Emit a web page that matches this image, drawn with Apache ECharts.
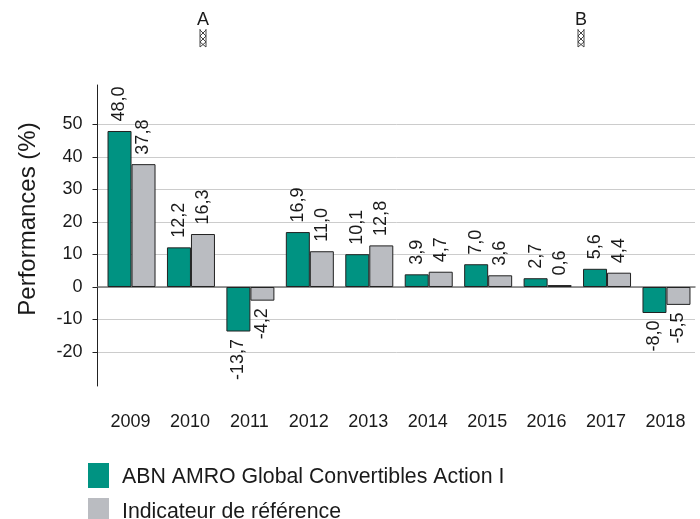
<!DOCTYPE html>
<html><head><meta charset="utf-8">
<style>html,body{margin:0;padding:0;background:#fff}#c{width:700px;height:519px}</style>
<script src="https://cdn.jsdelivr.net/npm/echarts@6/dist/echarts.min.js"></script>
</head><body><div id="c"></div>
<script>
const years = [2009,2010,2011,2012,2013,2014,2015,2016,2017,2018];
const fundValues = [48.0,12.2,-13.7,16.9,10.1,3.9,7.0,2.7,5.6,-8.0];
const benchValues = [37.8,16.3,-4.2,11.0,12.8,4.7,3.6,0.6,4.4,-5.5];
const yTicks = [-20,-10,0,10,20,30,40,50];
const fundName = 'ABN AMRO Global Convertibles Action I';
const benchName = 'Indicateur de référence';
const yName = 'Performances (%)';
const periodMarks = ['A','B'];

const FONT = '"Liberation Sans", Arial, sans-serif';
const TXT = '#1a1a1a';
const fmt = v => v.toFixed(1).replace('.', ',');
const pts = vals => vals.map((v,i)=>({
  value:[years[i],v],
  label:{position: v<0 ? 'bottom':'top', align: v<0 ? 'right':'left', verticalAlign:'middle'}
}));
const barSeries = (name, vals, color) => ({
  name, type:'bar', data:pts(vals), barWidth:24, barGap:0, xAxisIndex:0,
  itemStyle:{color, borderColor:'#222', borderWidth:1},
  label:{show:true, rotate:90, distance:8.5, offset:[1,0], fontFamily:FONT, fontSize:18, color:TXT,
    formatter:p=>fmt(p.value[1])}
});
const pl = (points) => ({type:'polyline', shape:{points}, style:{fill:null, stroke:'#444', lineWidth:1}});
const mark = (cx, t) => ({type:'group', children:[
  {type:'text', x:cx, y:20, style:{text:t, font:'18px '+FONT, fill:TXT, textAlign:'center', textVerticalAlign:'middle'}},
  pl([[cx-3,29],[cx-3,47]]),
  pl([[cx+3,29],[cx+3,47]]),
  pl([[cx-3,30],[cx+3,36],[cx-3,42],[cx+3,47]]),
  pl([[cx+3,30],[cx-3,36],[cx+3,42],[cx-3,47]])
]});
const xMin = 2009-(131.5-97.5)/59.4, xMax = 2018+(695-666.5)/59.4;
const chart = echarts.init(document.getElementById('c'));
chart.setOption({
  animation:false,
  textStyle:{fontFamily:FONT},
  grid:{left:97.5, top:85, width:597.5, height:301},
  legend:{left:88, top:463, height:70, padding:0, orient:'vertical', itemWidth:21, itemHeight:25, itemGap:10,
    icon:'rect', itemStyle:{borderWidth:0}, formatter:'{a|{name}}',
    textStyle:{fontFamily:FONT, fontSize:21.3, color:TXT,
      rich:{a:{fontFamily:FONT, fontSize:21.3, color:TXT, padding:[4,0,0,8]}}},
    data:[fundName,benchName]},
  xAxis:[
    {type:'value', min:xMin, max:xMax, position:'bottom',
     axisLine:{show:false,onZero:false}, axisTick:{show:false}, splitLine:{show:false},
     axisLabel:{customValues:years, margin:27, padding:[0,2,0,0], fontFamily:FONT, fontSize:18, color:TXT, formatter:v=>String(v), hideOverlap:false}},
    {type:'value', min:xMin, max:xMax, position:'bottom',
     axisLine:{show:true,onZero:true,lineStyle:{color:'#777',width:1.5}}, axisTick:{show:false}, splitLine:{show:false},
     axisLabel:{show:false}}
  ],
  yAxis:{type:'value', min:-30.46, max:62.15,
    name:yName, nameLocation:'middle', nameGap:57, nameRotate:90,
    nameTextStyle:{fontFamily:FONT, fontSize:24, color:TXT, padding:[0,0,0,33]},
    axisLine:{show:true,onZero:false,lineStyle:{color:'#222',width:1}},
    axisTick:{show:true,length:5,customValues:yTicks,lineStyle:{color:'#222'}},
    splitLine:{show:true,lineStyle:{color:'#ccc',width:1}},
    axisLabel:{customValues:yTicks, margin:15, fontFamily:FONT, fontSize:18, color:TXT}},
  series:[barSeries(fundName,fundValues,'#009382'), barSeries(benchName,benchValues,'#BABCC1')],
  graphic:[mark(203,periodMarks[0]), mark(581,periodMarks[1])]
});
</script></body></html>
